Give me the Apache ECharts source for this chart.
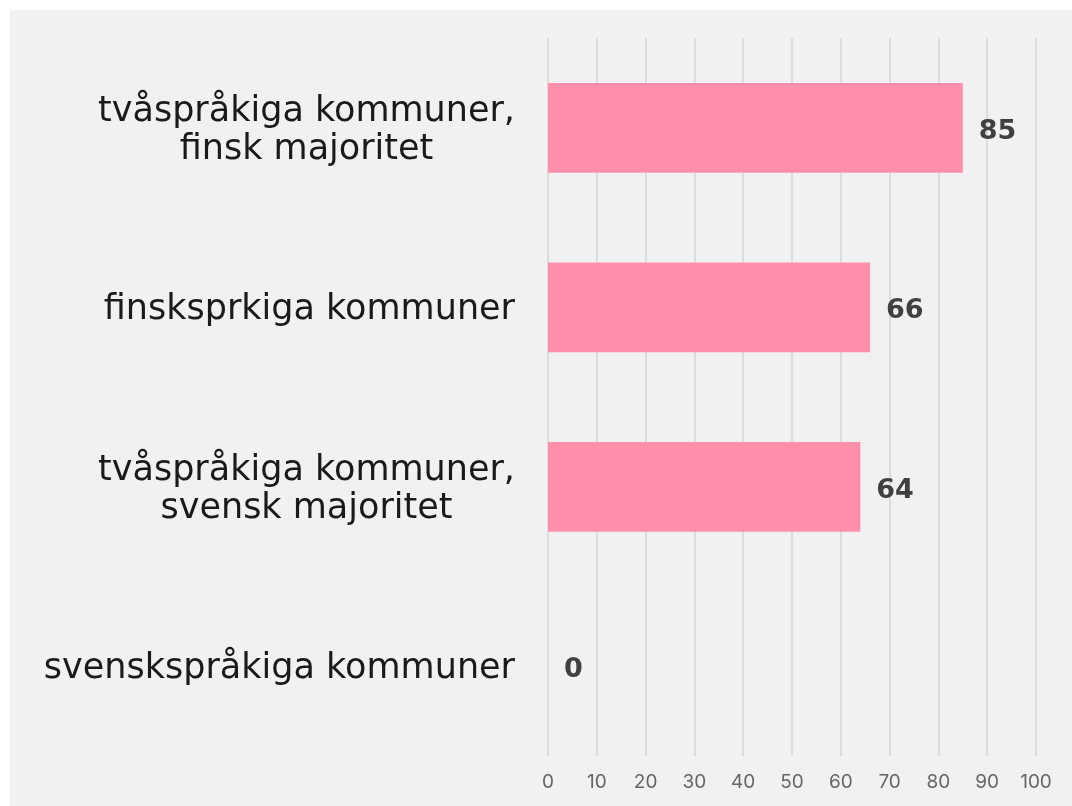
<!DOCTYPE html>
<html>
<head>
<meta charset="utf-8">
<script src="https://cdn.jsdelivr.net/npm/echarts@6/dist/echarts.min.js"></script>
<style>
  html, body { margin: 0; padding: 0; background: #ffffff; }
  #chart { position: absolute; left: 10px; top: 10px; width: 1062px; height: 796px; background: #f1f1f1; }
</style>
</head>
<body>
<div id="chart"></div>
<script>
const categories = [
    'tvåspråkiga kommuner,\nfinsk majoritet',
    'finsksprkiga kommuner',
    'tvåspråkiga kommuner,\nsvensk majoritet',
    'svenskspråkiga kommuner'
];
const values = [85, 66, 64, 0];
const axisTicks = [0, 10, 20, 30, 40, 50, 60, 70, 80, 90, 100];

var myChart = echarts.init(document.getElementById('chart'));
myChart.setOption({
    backgroundColor: '#f1f1f1',
    animation: false,
    grid: { left: 538, right: 36, top: 28, bottom: 50 },
    xAxis: {
        type: 'value',
        min: axisTicks[0],
        max: axisTicks[axisTicks.length - 1],
        interval: 10,
        axisLine: { show: false },
        axisTick: { show: false },
        splitLine: { show: true, lineStyle: { color: '#dcdcdc', width: 2 } },
        axisLabel: { color: '#666666', fontSize: 19, fontFamily: 'Inter', margin: 17 }
    },
    yAxis: {
        type: 'category',
        inverse: true,
        data: categories,
        axisLine: { show: false },
        axisTick: { show: false },
        axisLabel: {
            margin: 33,
            padding: [6, 0, 0, 0],
            formatter: function (v) {
                var lines = v.split('\n');
                return lines.map(function (s) { return '{c|' + s + '}'; }).join('\n');
            },
            rich: {
                c: {
                    align: 'center',
                    fontSize: 35,
                    lineHeight: 38,
                    fontWeight: 'normal',
                    fontFamily: 'DejaVu Sans',
                    color: '#1a1a1a'
                }
            }
        }
    },
    series: [{
        type: 'bar',
        data: values,
        barWidth: '50%',
        itemStyle: { color: '#ff8fab' },
        label: {
            show: true,
            position: 'right',
            distance: 16,
            offset: [0, 4],
            color: '#404040',
            fontSize: 27,
            fontWeight: 'bold',
            fontFamily: 'DejaVu Sans'
        }
    }]
});
</script>
</body>
</html>
